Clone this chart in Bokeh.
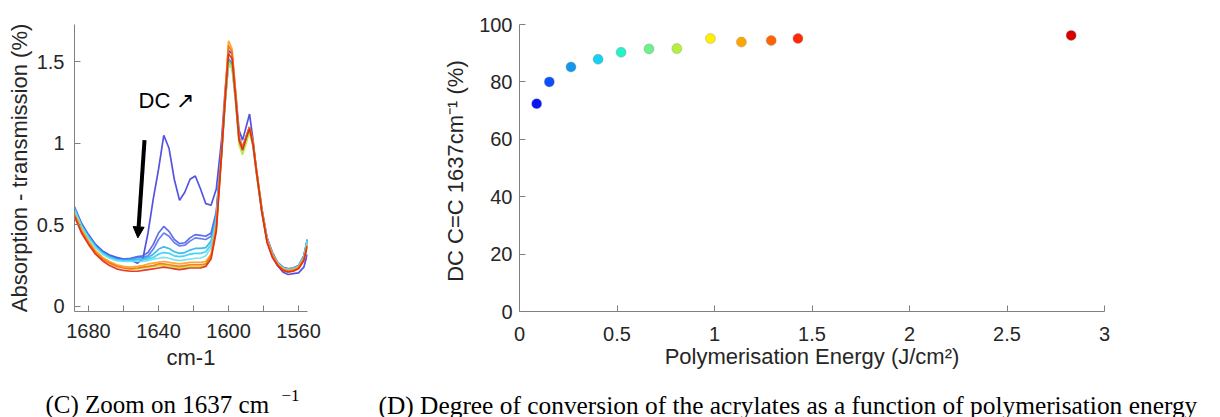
from bokeh.plotting import figure
from bokeh.models import Range1d, FixedTicker, NumeralTickFormatter, Arrow, NormalHead, Label, ColumnDataSource
from bokeh.layouts import column, row
from bokeh.core.properties import value
from bokeh.embed import file_html
from bokeh.resources import INLINE

# ---------------- data: panel (C) spectra ----------------
wavenumber = [1688, 1684, 1680, 1676, 1672, 1668, 1664, 1660,
              1656, 1652, 1649, 1646, 1643, 1640, 1637, 1634, 1631, 1628, 1625, 1622, 1619, 1616, 1613, 1610, 1607,
              1604, 1602, 1600, 1598, 1596, 1594, 1592, 1590, 1588, 1586, 1584, 1581, 1578, 1575, 1572, 1569, 1566,
              1563, 1560, 1557, 1555]

spec_0 = [0.61, 0.51, 0.44, 0.38, 0.34, 0.315, 0.30, 0.29,
          0.285, 0.265, 0.29, 0.45, 0.66, 0.84, 1.05, 0.97, 0.78, 0.65, 0.70, 0.78, 0.80, 0.72, 0.63, 0.62, 0.72,
          1.02, 1.32, 1.57, 1.55, 1.32, 1.08, 1.02, 1.10, 1.18, 1.02, 0.82, 0.58, 0.40, 0.31, 0.25, 0.21, 0.195,
          0.20, 0.205, 0.24, 0.32]
spec_1 = [0.60, 0.50, 0.43, 0.375, 0.335, 0.31, 0.295, 0.29,
          0.295, 0.305, 0.31, 0.33, 0.38, 0.45, 0.49, 0.46, 0.41, 0.385, 0.39, 0.42, 0.44, 0.435, 0.43, 0.45, 0.58,
          0.95, 1.25, 1.50, 1.48, 1.28, 1.04, 0.98, 1.04, 1.10, 1.00, 0.83, 0.60, 0.42, 0.33, 0.27, 0.24, 0.23,
          0.235, 0.25, 0.31, 0.41]
spec_2 = [0.59, 0.50, 0.43, 0.37, 0.33, 0.305, 0.29, 0.285,
          0.29, 0.30, 0.30, 0.31, 0.35, 0.41, 0.45, 0.43, 0.39, 0.37, 0.375, 0.40, 0.42, 0.415, 0.41, 0.43, 0.57,
          0.96, 1.26, 1.52, 1.49, 1.28, 1.03, 0.97, 1.04, 1.10, 1.00, 0.83, 0.60, 0.42, 0.33, 0.27, 0.24, 0.23,
          0.235, 0.25, 0.31, 0.41]
spec_3 = [0.60, 0.50, 0.43, 0.37, 0.33, 0.305, 0.29, 0.28,
          0.285, 0.29, 0.29, 0.30, 0.32, 0.35, 0.365, 0.355, 0.335, 0.325, 0.33, 0.345, 0.355, 0.355, 0.36, 0.40, 0.55,
          0.95, 1.26, 1.52, 1.49, 1.28, 1.03, 0.96, 1.03, 1.09, 0.99, 0.82, 0.59, 0.41, 0.32, 0.265, 0.235, 0.225,
          0.23, 0.245, 0.30, 0.40]
spec_4 = [0.60, 0.49, 0.42, 0.365, 0.325, 0.30, 0.285, 0.28,
          0.28, 0.285, 0.285, 0.29, 0.30, 0.32, 0.33, 0.325, 0.31, 0.305, 0.31, 0.32, 0.325, 0.325, 0.335, 0.38, 0.54,
          0.94, 1.25, 1.50, 1.48, 1.27, 1.02, 0.96, 1.03, 1.09, 0.99, 0.82, 0.59, 0.41, 0.32, 0.265, 0.235, 0.225,
          0.23, 0.245, 0.30, 0.41]
spec_5 = [0.59, 0.49, 0.42, 0.36, 0.32, 0.295, 0.28, 0.275,
          0.275, 0.275, 0.275, 0.28, 0.29, 0.295, 0.30, 0.295, 0.285, 0.28, 0.285, 0.29, 0.295, 0.295, 0.31, 0.36, 0.52,
          0.93, 1.24, 1.48, 1.46, 1.26, 1.01, 0.95, 1.02, 1.08, 0.98, 0.81, 0.58, 0.41, 0.32, 0.265, 0.235, 0.225,
          0.23, 0.245, 0.30, 0.40]
spec_6 = [0.57, 0.47, 0.40, 0.34, 0.30, 0.27, 0.25, 0.235,
          0.23, 0.23, 0.235, 0.24, 0.245, 0.25, 0.25, 0.245, 0.24, 0.235, 0.24, 0.245, 0.245, 0.245, 0.25, 0.30, 0.47,
          0.92, 1.24, 1.50, 1.47, 1.26, 0.99, 0.93, 1.00, 1.07, 0.98, 0.81, 0.58, 0.40, 0.31, 0.26, 0.23, 0.22,
          0.225, 0.24, 0.29, 0.38]
spec_7 = [0.57, 0.47, 0.40, 0.34, 0.30, 0.275, 0.255, 0.245,
          0.24, 0.245, 0.25, 0.26, 0.265, 0.27, 0.275, 0.27, 0.265, 0.26, 0.265, 0.27, 0.27, 0.27, 0.275, 0.32, 0.50,
          0.95, 1.30, 1.63, 1.58, 1.32, 1.04, 0.97, 1.04, 1.10, 1.01, 0.84, 0.60, 0.41, 0.32, 0.26, 0.23, 0.22,
          0.225, 0.24, 0.29, 0.38]
spec_8 = [0.56, 0.46, 0.39, 0.33, 0.29, 0.265, 0.245, 0.235,
          0.23, 0.235, 0.24, 0.245, 0.25, 0.26, 0.26, 0.255, 0.25, 0.245, 0.25, 0.255, 0.255, 0.255, 0.26, 0.31, 0.48,
          0.94, 1.28, 1.60, 1.56, 1.30, 1.03, 0.97, 1.04, 1.10, 1.00, 0.83, 0.59, 0.40, 0.31, 0.255, 0.225, 0.215,
          0.22, 0.235, 0.285, 0.37]
spec_9 = [0.55, 0.45, 0.38, 0.32, 0.28, 0.25, 0.23, 0.22,
          0.215, 0.215, 0.22, 0.225, 0.23, 0.235, 0.24, 0.235, 0.23, 0.225, 0.23, 0.235, 0.235, 0.235, 0.245, 0.29, 0.46,
          0.93, 1.26, 1.55, 1.52, 1.28, 1.02, 0.96, 1.03, 1.09, 0.99, 0.82, 0.58, 0.39, 0.30, 0.25, 0.22, 0.21,
          0.215, 0.23, 0.28, 0.37]
spectra = [spec_0, spec_1, spec_2, spec_3, spec_4, spec_5, spec_6, spec_7, spec_8, spec_9]
spectra_colors = ["#4040e0", "#4a5ee8", "#5a70f0", "#28b4e8", "#30d2f0",
                  "#6ee0f5", "#b4e632", "#ffa014", "#ff6a10", "#e02814"]

left_xticks = [1680, 1640, 1600, 1560]
left_xminor = [1660, 1620, 1580]
left_yticks = [0, 0.5, 1, 1.5]

# ---------------- data: panel (D) degree of conversion ----------------
energy = [0.088, 0.153, 0.264, 0.403, 0.521, 0.664, 0.807, 0.979, 1.138, 1.291, 1.428, 2.829]
dc = [72.4, 80.0, 85.2, 87.9, 90.3, 91.5, 91.6, 95.1, 93.9, 94.4, 95.1, 96.2]
point_colors = ["#0a14f5", "#0a50ff", "#1496f0", "#14d2f0", "#28f0c8", "#6ef08c",
                "#b4f03c", "#fff000", "#ffa500", "#ff6400", "#ff2800", "#d70000"]
right_xticks = [0, 0.5, 1, 1.5, 2, 2.5, 3]
right_yticks = [0, 20, 40, 60, 80, 100]

FONT = "Liberation Sans"
TICK_COLOR = "#262626"
AXIS_COLOR = "#808080"


def style_axes(p):
    for ax in (p.xaxis[0], p.yaxis[0]):
        ax.axis_line_color = AXIS_COLOR
        ax.major_tick_line_color = AXIS_COLOR
        ax.minor_tick_line_color = AXIS_COLOR
        ax.major_tick_in = 6
        ax.major_tick_out = 0
        ax.minor_tick_in = 6
        ax.minor_tick_out = 0
        ax.major_label_text_font = FONT
        ax.major_label_text_font_size = "20px"
        ax.major_label_text_color = TICK_COLOR
        ax.axis_label_text_font = FONT
        ax.axis_label_text_font_size = "22px"
        ax.axis_label_text_font_style = "normal"
        ax.axis_label_text_color = TICK_COLOR
    p.xgrid.visible = False
    p.ygrid.visible = False
    p.outline_line_color = None
    p.background_fill_color = "white"
    p.border_fill_color = "white"


# ---------------- left panel ----------------
p1 = figure(width=330, height=372, x_range=Range1d(1688, 1554.9), y_range=Range1d(-0.032, 1.73),
            output_backend="svg", toolbar_location=None,
            min_border_left=74, min_border_right=23, min_border_top=23, min_border_bottom=60)
for s, c in zip(spectra, spectra_colors):
    p1.line(wavenumber, s, line_color=c, line_width=1.7, line_alpha=0.9)
p1.xaxis.ticker = FixedTicker(ticks=left_xticks, minor_ticks=left_xminor)
p1.yaxis.ticker = FixedTicker(ticks=left_yticks, minor_ticks=[])
p1.yaxis.formatter = NumeralTickFormatter(format="0.[0]")
p1.xaxis.axis_label = "cm-1"
p1.yaxis.axis_label = "Absorption - transmission (%)"
style_axes(p1)
p1.xaxis.major_label_standoff = 12
p1.yaxis.major_label_standoff = 10
p1.xaxis.axis_label_standoff = 4
p1.yaxis.axis_label_standoff = 2

p1.add_layout(Arrow(x_start=1648.0, y_start=1.02, x_end=1651.8, y_end=0.42, line_width=4, line_color="black",
                    end=NormalHead(size=11, fill_color="black", line_color="black")))
p1.add_layout(Label(x=1651.4, y=1.265, text="DC \u2197", text_font=FONT, text_font_size="22px",
                    text_color="black", text_baseline="alphabetic"))

# ---------------- right panel ----------------
p2 = figure(width=890, height=372, x_range=Range1d(0, 3), y_range=Range1d(0, 100),
            output_backend="svg", toolbar_location=None,
            min_border_left=189, min_border_right=116, min_border_top=24, min_border_bottom=58)
src = ColumnDataSource(dict(x=energy, y=dc, c=point_colors))
p2.scatter("x", "y", source=src, size=10, fill_color="c", line_color="#8a8a8a", line_width=0.6, line_alpha=0.6)
p2.xaxis.ticker = FixedTicker(ticks=right_xticks, minor_ticks=[])
p2.yaxis.ticker = FixedTicker(ticks=right_yticks, minor_ticks=[])
p2.xaxis.formatter = NumeralTickFormatter(format="0.[0]")
p2.xaxis.axis_label = "Polymerisation Energy (J/cm\u00b2)"
p2.yaxis.axis_label = "DC C=C 1637cm\u207b\u00b9  (%)"
style_axes(p2)
p2.xaxis.major_label_standoff = 15
p2.yaxis.major_label_standoff = 7
p2.xaxis.axis_label_standoff = 0
p2.yaxis.axis_label_standoff = 8

# ---------------- captions ----------------
p3 = figure(width=1220, height=45, x_range=Range1d(0, 1220), y_range=Range1d(45, 0),
            output_backend="svg", toolbar_location=None, min_border=0,
            x_axis_location=None, y_axis_location=None)
p3.xgrid.visible = False
p3.ygrid.visible = False
p3.outline_line_color = None
SERIF = value("Liberation Serif")
p3.text(x=[45], y=[32], text=["(C) Zoom on 1637 cm"], text_font=SERIF, text_font_size="25px",
        text_color="black", text_baseline="alphabetic")
p3.text(x=[281], y=[23], text=["\u22121"], text_font=SERIF, text_font_size="17px",
        text_color="black", text_baseline="alphabetic")
p3.text(x=[378], y=[32], text=["(D) Degree of conversion of the acrylates as a function of polymerisation energy"],
        text_font=SERIF, text_font_size="25.4px", text_color="black", text_baseline="alphabetic")

layout = column(row(p1, p2), p3)
open("out.html", "w").write(file_html(layout, INLINE))
